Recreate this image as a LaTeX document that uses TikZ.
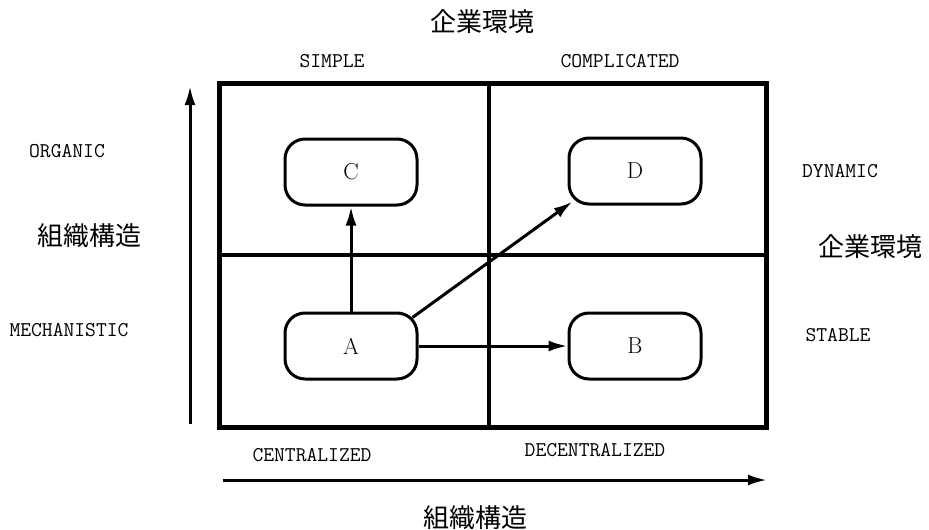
\documentclass[tikz,border=0pt]{standalone}
\usepackage{fontspec}
\newfontfamily\cjk{Noto Sans CJK JP}
\usepackage{tikz}
\usetikzlibrary{arrows.meta,calc,positioning}

\begin{document}
\begin{tikzpicture}[x=1pt, y=-1pt, on grid,
					every node/.style={font=\fontsize{21}{24}\selectfont\ttfamily},
					box/.style={draw, line width=3pt, rounded corners=20pt,
						minimum width=132pt, minimum height=66pt,
						font=\fontsize{23}{26}\selectfont\rmfamily},
					jp/.style={font=\fontsize{26}{30}\selectfont\cjk},
					arr/.style={line width=3pt, -{Latex[length=19pt,width=11pt]}}
				]
				\useasboundingbox (0,0) rectangle (929,530);
				
				% quadrants
				\draw[line width=5pt] (219,83) rectangle (766,427);
				\draw[line width=4pt] (489,83) -- (489,427)
					(219,255) -- (766,255);
				
				\node[box] (A) at (351,346) {A};
				\node[box] (C) [above=174pt of A] {C};
				\node[box] (B) [right=284pt of A] {B};
				\node[box] (D) [above=175pt of B] {D};
				
				\draw[arr] (A.north) -- (C.south);
				\draw[arr] (A.east) -- (B.west);
				\draw[arr] ([shift={(-6,6)}]A.north east) -- ([shift={(5,-4)}]D.south west);
				
				% axes
				\coordinate (v0) at (190,424);
				\coordinate (v1) at (190,86);
				\coordinate (h0) at (223,480);
				\coordinate (h1) at (767,480);
				\draw[arr] (v0) -- (v1);
				\draw[arr] (h0) -- (h1);
				
				\node[jp] (envT) at (482,22) {企業環境};
				\node (simple) at (332,61) {SIMPLE};
				\node (compl) at (620,61) {COMPLICATED};
				
				\node (organic) at (67,151) {ORGANIC};
				\node[jp] (orgL) at (89,236) {組織構造};
				\node (mech) at (69,330) {MECHANISTIC};
				
				\node (dyn) at (840,171) {DYNAMIC};
				\node[jp] (envR) at (870,247) {企業環境};
				\node (stable) at (838,335) {STABLE};
				
				\node (central) at (312,455) {CENTRALIZED};
				\node (decentral) at (595,450) {DECENTRALIZED};
				\node[jp] (orgB) at (475,518) {組織構造};
			\end{tikzpicture}
\end{document}
